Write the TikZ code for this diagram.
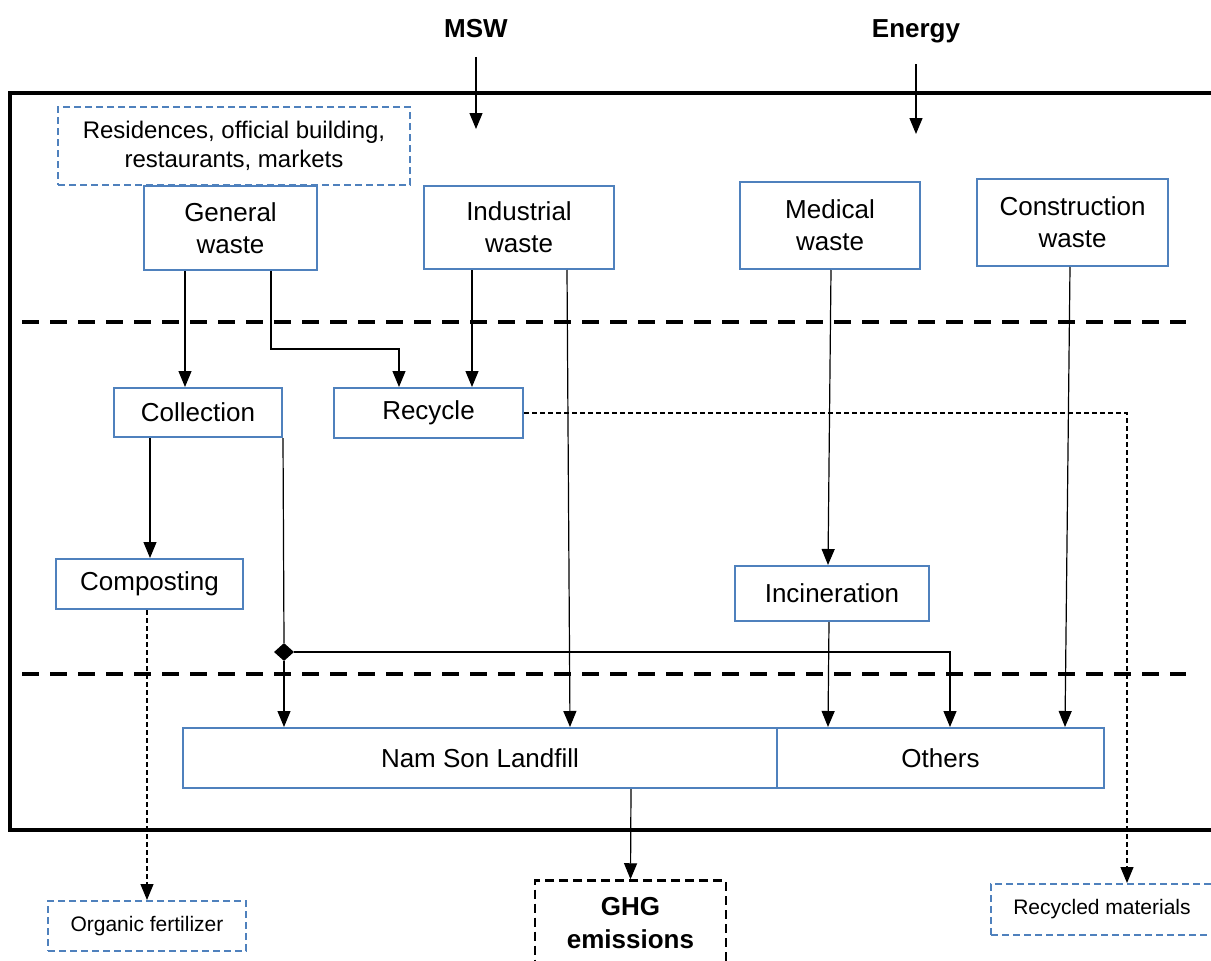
\documentclass[tikz,border=0pt]{standalone}
\usepackage{fontspec}
\setmainfont{Liberation Sans}
\usetikzlibrary{arrows.meta,shapes.geometric}
\definecolor{boxblue}{RGB}{79,129,189}

\begin{document}
\begin{tikzpicture}[x=1pt,y=-1pt,
    wbox/.style={draw=boxblue,line width=2pt,align=center,inner sep=0pt,font=\fontsize{26}{32}\selectfont},
    dbox/.style={wbox,dash pattern=on 7pt off 4pt},
    arr/.style={line width=1.2pt,-{Triangle[length=16pt,width=13pt]}},
    darr/.style={arr,dash pattern=on 5pt off 3pt},
    sepline/.style={line width=4pt,dash pattern=on 17pt off 11pt}]
    \useasboundingbox (0,0) rectangle (1211,961);

    % System boundary and stage separators
    \draw[line width=4pt] (10,93) rectangle (1217,830);
    \draw[sepline] (22,322) -- (1186,322);
    \draw[sepline] (22,674) -- (1186,674);

    % Inputs
    \node[anchor=base,font=\bfseries\fontsize{26}{31}\selectfont] (msw) at (476,37) {MSW};
    \node[anchor=base,font=\bfseries\fontsize{26}{31}\selectfont] (enr) at (916,37) {Energy};
    \coordinate (mswin) at (476,129);
    \coordinate (enrin) at (916,134);
    \draw[arr,shorten <=16pt] (msw.south) -- (mswin);
    \draw[arr,shorten <=18pt] (enr.south) -- (enrin);

    % Sources
    \node[dbox,minimum width=352pt,minimum height=78pt,font=\fontsize{24}{29}\selectfont] (res) at (234,146) {Residences, official building,\\restaurants, markets};
    \node[wbox,minimum width=173pt,minimum height=84pt] (gen) at (230.5,228) {General\\waste};
    \node[wbox,minimum width=190pt,minimum height=83pt] (ind) at (519,227.5) {Industrial\\waste};
    \node[wbox,minimum width=180pt,minimum height=87pt] (med) at (830,225.5) {Medical\\waste};
    \node[wbox,minimum width=191pt,minimum height=87pt] (con) at (1072.5,222.5) {Construction\\waste};

    % Treatment
    \node[wbox,minimum width=168pt,minimum height=49pt] (col) at (198,412.5) {Collection};
    \node[wbox,minimum width=189pt,minimum height=50pt] (rec) at (428.5,413) {Recycle};
    \node[wbox,minimum width=187pt,minimum height=50pt] (comp) at (149.5,584) {Composting};
    \node[wbox,minimum width=194pt,minimum height=55pt] (inc) at (832,593.5) {Incineration};
    \node[diamond,fill,inner sep=0pt,minimum width=20pt,minimum height=18pt] (jn) at (284,652) {};

    % Disposal
    \node[wbox,minimum width=594pt,minimum height=60pt] (land) at (480,758) {Nam Son Landfill};
    \node[wbox,minimum width=327pt,minimum height=60pt] (oth) at (940.5,758) {Others};

    % Outputs
    \node[dbox,minimum width=198pt,minimum height=50pt,font=\fontsize{21}{25}\selectfont] (org) at (147,926) {Organic fertilizer};
    \node[draw,line width=2.5pt,dash pattern=on 9pt off 5pt,inner sep=0pt,minimum width=191pt,minimum height=85pt,align=center,font=\bfseries\fontsize{26}{33}\selectfont] (ghg) at (630.5,923) {GHG\\emissions};
    \node[dbox,minimum width=222pt,minimum height=51pt,font=\fontsize{21}{25}\selectfont] (rcm) at (1102,909.5) {Recycled materials};

    % Flows
    \draw[arr] ([xshift=-45.5pt]gen.south) -- ([xshift=-13pt]col.north);
    \draw[arr] ([xshift=40.5pt]gen.south) -- ++(0,78) -| ([xshift=-29.5pt]rec.north);
    \draw[arr] ([xshift=-47pt]ind.south) -- ([xshift=43.5pt]rec.north);
    \draw[arr] ([xshift=48pt]ind.south) -- ([xshift=90pt]land.north);
    \draw[arr] ([xshift=1pt]med.south) -- ([xshift=-4pt]inc.north);
    \draw[arr] ([xshift=-2.5pt]con.south) -- ([xshift=124.5pt]oth.north);
    \draw[arr] ([xshift=-48pt]col.south) -- ([xshift=0.5pt]comp.north);
    \draw[line width=1.2pt] ([xshift=85pt]col.south) -- (jn.north);
    \draw[arr] (jn.south) -- (land.north -| jn);
    \draw[arr] (jn.east) -| ([xshift=9.5pt]oth.north);
    \draw[arr] ([xshift=-3pt]inc.south) -- ([xshift=-112.5pt]oth.north);
    \draw[arr] ([xshift=151pt]land.south) -- (ghg.north);
    \draw[darr] ([xshift=-2.5pt]comp.south) -- (org.north);
    \draw[darr] (rec.east) -| ([xshift=25pt]rcm.north);
\end{tikzpicture}
\end{document}
